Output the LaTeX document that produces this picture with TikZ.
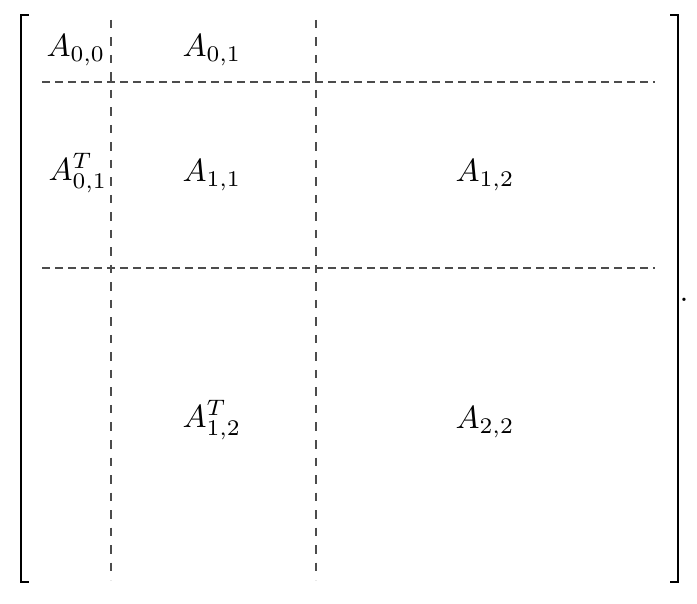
\documentclass[tikz,border=0pt]{standalone}
\begin{document}
\begin{tikzpicture}[x=1pt,y=-1pt,
  ent/.style={inner sep=0pt,scale=3.2},
  hdash/.style={draw=black!70,line width=1.1pt,dash pattern=on 8pt off 5pt},
  vdash/.style={draw=black!70,line width=1.1pt,dash pattern=on 8.5pt off 9pt},
  brack/.style={draw=black,line width=2.2pt}]
\useasboundingbox (0,0) rectangle (697,604);
% brackets
\coordinate (lt) at (29,15); \coordinate (lb) at (29,582);
\coordinate (rt) at (670,15); \coordinate (rb) at (670,582);
\draw[brack] (lt) -| (21,582) -- (lb);
\draw[brack] (rt) -| (678,582) -- (rb);
\node[ent] (dot) at (684,300) {.};
% dashed lines
\coordinate (v1t) at (111,20); \coordinate (v1b) at (111,580);
\coordinate (v2t) at (316,20); \coordinate (v2b) at (316,580);
\coordinate (h1l) at (42,82); \coordinate (h1r) at (655,82);
\coordinate (h2l) at (42,268); \coordinate (h2r) at (655,268);
\draw[vdash] (v1t) -- (v1b);
\draw[vdash] (v2t) -- (v2b);
\draw[hdash] (h1l) -- (h1r);
\draw[hdash] (h2l) -- (h2r);
% entries
\node[ent] (a00) at (76,50) {$A_{0,0}$};
\node[ent] (a01) at (212,50) {$A_{0,1}$};
\node[ent] (a01t) at (78,173) {$A_{0,1}^T$};
\node[ent] (a11) at (212,175) {$A_{1,1}$};
\node[ent] (a12) at (485,175) {$A_{1,2}$};
\node[ent] (a12t) at (212,420) {$A_{1,2}^T$};
\node[ent] (a22) at (485,422) {$A_{2,2}$};
\end{tikzpicture}
\end{document}
